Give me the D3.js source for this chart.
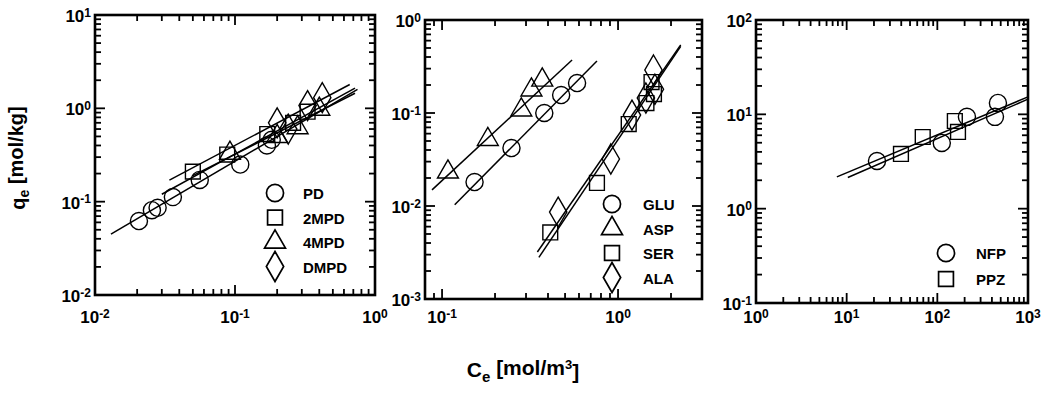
<!DOCTYPE html>
<html>
<head>
<meta charset="utf-8">
<script src="https://cdn.jsdelivr.net/npm/d3@7"></script>
<style>
  body { margin: 0; background: #fff; }
  svg { font-family: "Liberation Sans", Arial, sans-serif; font-weight: bold; }
</style>
</head>
<body>
<svg id="chart" width="1047" height="395"></svg>
<script>
// panel 1 - diamines
const pdData = [[0.0206, 0.062], [0.0255, 0.081], [0.028, 0.086], [0.036, 0.112], [0.056, 0.171], [0.109, 0.25], [0.169, 0.40], [0.183, 0.46]];
const mpd2Data = [[0.05, 0.21], [0.088, 0.32], [0.17, 0.53], [0.26, 0.70], [0.33, 0.92]];
const mpd4Data = [[0.092, 0.33], [0.2, 0.5], [0.28, 0.62], [0.40, 0.98]];
const dmpdData = [[0.2, 0.70], [0.24, 0.60], [0.33, 1.07], [0.42, 1.30]];
const pdFit = [[0.013, 0.045], [0.75, 1.6]];
const mpd2Fit = [[0.034, 0.17], [0.66, 1.8]];
const mpd4Fit = [[0.05, 0.19], [0.72, 1.45]];
const dmpdFit = [[0.03, 0.12], [0.72, 1.65]];

// panel 2 - amino acids
const gluData = [[0.153, 0.0181], [0.248, 0.042], [0.381, 0.10], [0.475, 0.156], [0.585, 0.21]];
const aspData = [[0.108, 0.0232], [0.182, 0.052], [0.282, 0.108], [0.322, 0.177], [0.371, 0.226]];
const serData = [[0.412, 0.0052], [0.759, 0.0177], [1.15, 0.076], [1.45, 0.128], [1.55, 0.215], [1.6, 0.16]];
const alaData = [[0.457, 0.0086], [0.91, 0.032], [1.2, 0.095], [1.44, 0.145], [1.59, 0.29], [1.62, 0.18]];
const gluFit = [[0.118, 0.0103], [0.759, 0.362]];
const aspFit = [[0.0877, 0.0149], [0.548, 0.371]];
const serFit = [[0.348, 0.0032], [2.27, 0.54]];
const alaFit = [[0.355, 0.0028], [2.27, 0.52]];

// panel 3 - drugs
const nfpData = [[21.6, 3.2], [112, 4.97], [212, 9.4], [466, 13.2], [432, 9.4]];
const ppzData = [[39.7, 3.8], [69, 5.75], [156, 8.5], [169, 6.5]];
const nfpFit = [[7.8, 2.17], [1000, 15.3]];
const ppzFit = [[10.3, 2.14], [1000, 14.5]];

const panels = [
  { x0: 95, x1: 375, y0: 15, y1: 295, xd: [0.01, 1], yd: [0.01, 10],
    series: [
      { name: "PD", shape: "circle", data: pdData, fit: pdFit },
      { name: "2MPD", shape: "square", data: mpd2Data, fit: mpd2Fit },
      { name: "4MPD", shape: "triangle", data: mpd4Data, fit: mpd4Fit },
      { name: "DMPD", shape: "diamond", data: dmpdData, fit: dmpdFit }],
    legend: { x: 275, tx: 303, y: 193, dy: 24.5 } },
  { x0: 425, x1: 702, y0: 20, y1: 299, xd: [0.08, 3], yd: [0.001, 1],
    series: [
      { name: "GLU", shape: "circle", data: gluData, fit: gluFit },
      { name: "ASP", shape: "triangle", data: aspData, fit: aspFit },
      { name: "SER", shape: "square", data: serData, fit: serFit },
      { name: "ALA", shape: "diamond", data: alaData, fit: alaFit }],
    legend: { x: 612, tx: 643, y: 204, dy: 24.5 } },
  { x0: 756, x1: 1028, y0: 20, y1: 303, xd: [1, 1000], yd: [0.1, 100],
    series: [
      { name: "NFP", shape: "circle", data: nfpData, fit: nfpFit },
      { name: "PPZ", shape: "square", data: ppzData, fit: ppzFit }],
    legend: { x: 946, tx: 976, y: 253, dy: 26 } }
];

const svg = d3.select("#chart");

const sym = {
  circle: d3.symbol(d3.symbolCircle, 230),
  square: d3.symbol(d3.symbolSquare, 220),
  triangle: d3.symbol(d3.symbolTriangle, 190),
  diamond: d3.symbol(d3.symbolDiamond, 260)
};

function powLabel(sel, v) {
  const e = Math.round(Math.log10(v));
  sel.text(null);
  sel.append("tspan").text("10");
  sel.append("tspan").attr("dy", "-0.45em").style("font-size", "12px").text(e);
}

const isMajor = v => Math.abs(Math.log10(v) - Math.round(Math.log10(v))) < 1e-6;
const tickLen = v => (isMajor(v) ? 10 : 6);

panels.forEach(p => {
  const x = d3.scaleLog().domain(p.xd).range([p.x0, p.x1]);
  const y = d3.scaleLog().domain(p.yd).range([p.y1, p.y0]);
  const g = svg.append("g");

  const xt = x.ticks(20).filter(v => x(v) >= p.x0 - 0.5 && x(v) <= p.x1 + 0.5);
  const yt = y.ticks(20).filter(v => y(v) >= p.y0 - 0.5 && y(v) <= p.y1 + 0.5);
  const xMaj = xt.filter(isMajor), yMaj = yt.filter(isMajor);

  g.append("rect").attr("x", p.x0).attr("y", p.y0)
    .attr("width", p.x1 - p.x0).attr("height", p.y1 - p.y0)
    .attr("fill", "none").attr("stroke", "#000").attr("stroke-width", 2.6);

  // inward ticks on all four sides, as thin filled bars
  const tk = g.append("g").attr("fill", "#000");
  tk.selectAll(".tb").data(xt).enter().append("rect")
    .attr("x", v => x(v) - 0.9).attr("y", v => p.y1 - tickLen(v))
    .attr("width", 1.8).attr("height", v => tickLen(v));
  tk.selectAll(".tt").data(xt).enter().append("rect")
    .attr("x", v => x(v) - 0.9).attr("y", p.y0)
    .attr("width", 1.8).attr("height", v => tickLen(v));
  tk.selectAll(".tl").data(yt).enter().append("rect")
    .attr("x", p.x0).attr("y", v => y(v) - 0.9)
    .attr("width", v => tickLen(v)).attr("height", 1.8);
  tk.selectAll(".tr").data(yt).enter().append("rect")
    .attr("x", v => p.x1 - tickLen(v)).attr("y", v => y(v) - 0.9)
    .attr("width", v => tickLen(v)).attr("height", 1.8);

  g.selectAll(".xl").data(xMaj).enter().append("text")
    .attr("x", v => x(v)).attr("y", 323).attr("text-anchor", "middle")
    .style("font-size", "17px")
    .each(function (v) { powLabel(d3.select(this), v); });

  g.selectAll(".yl").data(yMaj).enter().append("text")
    .attr("x", p.x0 - 4).attr("y", v => y(v) + 7).attr("text-anchor", "end")
    .style("font-size", "17px")
    .each(function (v) { powLabel(d3.select(this), v); });

  const line = d3.line().x(d => x(d[0])).y(d => y(d[1]));

  p.series.forEach((s, i) => {
    g.append("path").attr("d", line(s.fit))
      .attr("fill", "none").attr("stroke", "#000").attr("stroke-width", 1.5);

    g.selectAll(null).data(s.data).enter().append("path")
      .attr("d", sym[s.shape])
      .attr("transform", d => `translate(${x(d[0])},${y(d[1])})`)
      .attr("fill", "none").attr("stroke", "#000").attr("stroke-width", 1.4);

    const ly = p.legend.y + i * p.legend.dy;
    g.append("path").attr("d", sym[s.shape])
      .attr("transform", `translate(${p.legend.x},${ly})`)
      .attr("fill", "#fff").attr("stroke", "#000").attr("stroke-width", 1.7);
    g.append("text").attr("x", p.legend.tx).attr("y", ly + 6)
      .style("font-size", "15px").text(s.name);
  });
});

// axis titles
const yTitle = svg.append("text")
  .attr("transform", "translate(25,158) rotate(-90)")
  .attr("text-anchor", "middle").style("font-size", "20px");
yTitle.append("tspan").text("q");
yTitle.append("tspan").attr("dy", "0.3em").style("font-size", "14px").text("e");
yTitle.append("tspan").attr("dy", "-0.3em").text(" [mol/kg]");

const xTitle = svg.append("text")
  .attr("x", 523).attr("y", 377).attr("text-anchor", "middle").style("font-size", "21px");
xTitle.append("tspan").text("C");
xTitle.append("tspan").attr("dy", "0.3em").style("font-size", "15px").text("e");
xTitle.append("tspan").attr("dy", "-0.3em").text(" [mol/m");
xTitle.append("tspan").attr("dy", "-0.5em").style("font-size", "13px").text("3");
xTitle.append("tspan").attr("dy", "0.5em").text("]");
</script>
</body>
</html>
